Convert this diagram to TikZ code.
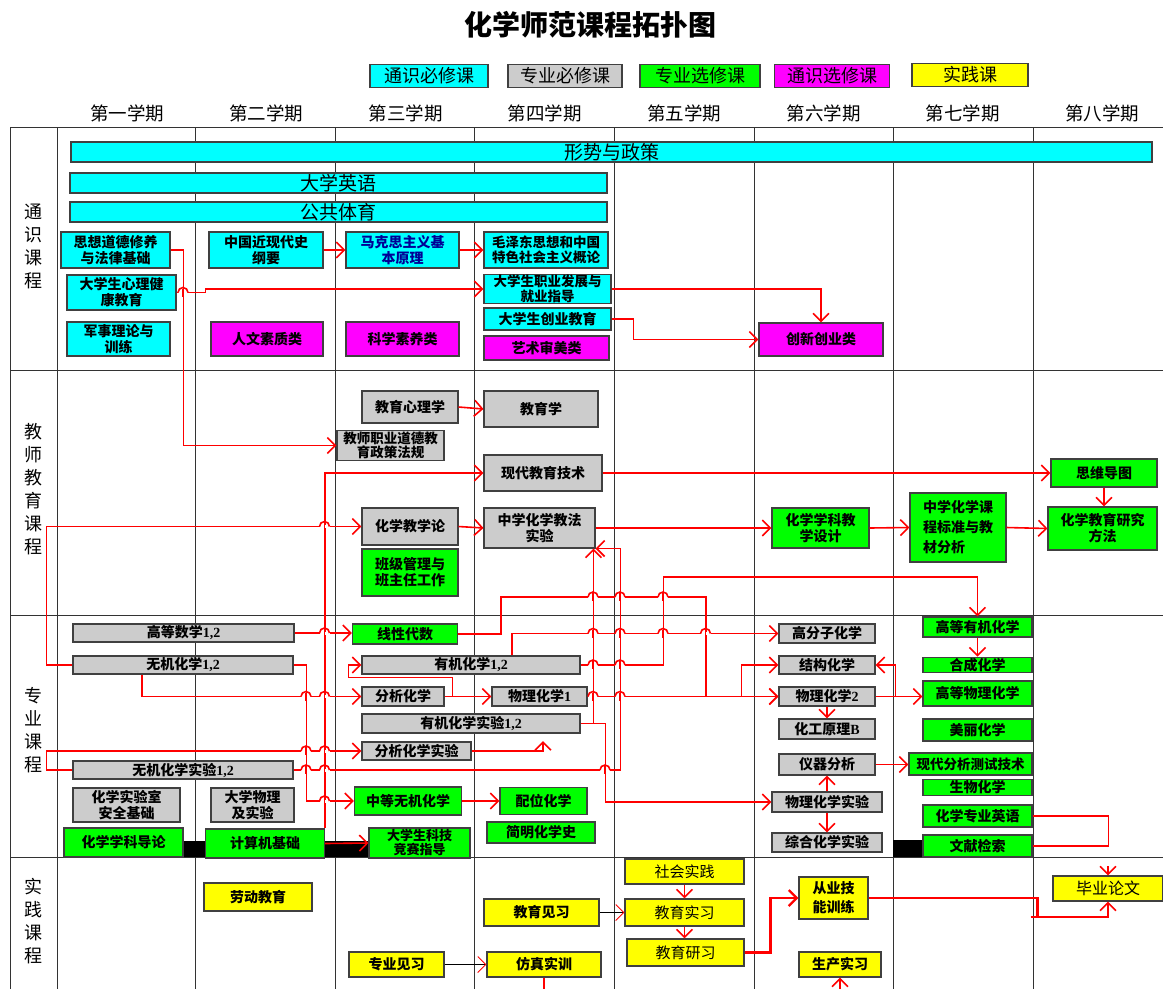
\documentclass[tikz,border=0pt]{standalone}
\usepackage{fontspec}
\setmainfont{Noto Sans CJK SC}
\newfontfamily\latinfont{Liberation Serif}
\usetikzlibrary{arrows.meta}
\usetikzlibrary{positioning}

\definecolor{tscyan}{RGB}{0,255,255}
\definecolor{zbgray}{RGB}{204,204,204}
\definecolor{zxgreen}{RGB}{0,255,0}
\definecolor{txmagenta}{RGB}{255,0,255}
\definecolor{sjyellow}{RGB}{255,255,0}
\definecolor{linkred}{RGB}{255,0,0}
\definecolor{mksblue}{RGB}{0,0,150}

\newcommand{\lnum}[1]{{\latinfont\bfseries #1}}
\newcommand{\linkhop}[2]{%
  \draw[white, line width=3pt] ({#1-5},#2) -- ({#1+5},#2);
  \draw[plainlink] (#1,{#2-4}) -- (#1,{#2+4});
  \draw[plainlink] ({#1-5},#2) arc[start angle=180, end angle=360, radius=5];}

\tikzset{
  course/.style={draw=black!75, line width=1.1pt, inner sep=1pt, align=center,
    font=\fontsize{14}{16}\selectfont\bfseries},
  tsbox/.style={course, fill=tscyan},
  zbbox/.style={course, fill=zbgray},
  zxbox/.style={course, fill=zxgreen},
  txbox/.style={course, fill=txmagenta},
  sjbox/.style={course, fill=sjyellow},
  thin text/.style={font=\fontsize{15}{17}\selectfont},
  wide text/.style={font=\fontsize{19}{20}\selectfont},
  small text/.style={font=\fontsize{13.5}{14.5}\selectfont\bfseries},
  legend/.style={font=\fontsize{18}{20}\selectfont},
  semtext/.style={font=\fontsize{18.5}{20}\selectfont},
  catlabel/.style={align=center, font=\fontsize{18}{23}\selectfont},
  gridline/.style={draw=black!80, line width=1pt},
  link/.style={draw=linkred, line width=1.6pt, -{Straight Barb[length=8pt,width=16pt]}},
  plainlink/.style={draw=linkred, line width=1.6pt},
  blacklink/.style={draw=black, line width=1pt, -{Straight Barb[length=8pt,width=16pt,color=linkred]}}
}

\begin{document}
\begin{tikzpicture}[x=1pt,y=-1pt]
\useasboundingbox[fill=white] (0,0) rectangle (1163,989);

% title and legend
\node[font=\fontsize{28}{30}\selectfont\bfseries] (title) at (590,25) {化学师范课程拓扑图};
\node[tsbox, legend, minimum width=118, minimum height=23] (lgts) at (429,76) {通识必修课};
\node[zbbox, legend, minimum width=114, minimum height=23] (lgzb) at (565,76) {专业必修课};
\node[zxbox, legend, minimum width=120, minimum height=23] (lgzx) at (700,76) {专业选修课};
\node[txbox, legend, minimum width=115, minimum height=23] (lgtx) at (832,76) {通识选修课};
\node[sjbox, legend, minimum width=116, minimum height=23] (lgsj) at (970,75) {实践课};

% semesters
\foreach \t [count=\i] in {一,二,三,四,五,六,七,八}
  \node[semtext] (sem\i) at ({127+139.3*(\i-1)},113) {第\t 学期};

% grid
\foreach \gx in {10,57,195,335,474,614,754,893,1033}
  \draw[gridline] (\gx,127) -- (\gx,989);
\foreach \gy in {127,370,615,857}
  \draw[gridline] (10,\gy) -- (1163,\gy);
\fill[black] (170,841) rectangle (370,857);
\fill[black] (893,840) rectangle (923,857);

\node[catlabel] (cat1) at (33,246) {通\\识\\课\\程};
\node[catlabel] (cat2) at (33,489) {教\\师\\教\\育\\课\\程};
\node[catlabel] (cat3) at (33,730) {专\\业\\课\\程};
\node[catlabel] (cat4) at (33,921) {实\\践\\课\\程};

% general courses
\node[tsbox, wide text, minimum width=1081, minimum height=20] (xszc) at (611.5,152) {形势与政策};
\node[tsbox, wide text, minimum width=537, minimum height=20] (dxyy) at (338.5,183) {大学英语};
\node[tsbox, wide text, minimum width=537, minimum height=20] (ggty) at (338.5,212) {公共体育};
\node[tsbox, minimum width=109, minimum height=36] (szdd) at (115.5,250) {思想道德修养\\与法律基础};
\node[tsbox, minimum width=114, minimum height=36] (zgjx) at (266,250) {中国近现代史\\纲要};
\node[tsbox, text=mksblue, minimum width=113, minimum height=36] (mks) at (402.5,250) {马克思主义基\\本原理};
\node[tsbox, small text, minimum width=124, minimum height=36] (mzd) at (546,250) {毛泽东思想和中国\\特色社会主义概论};
\node[tsbox, minimum width=109, minimum height=35] (xljk) at (121.5,292.5) {大学生心理健\\康教育};
\node[tsbox, small text, minimum width=127, minimum height=28] (zyfz) at (547.5,289) {大学生职业发展与\\就业指导};
\node[tsbox, minimum width=127, minimum height=22] (cyjy) at (547.5,319) {大学生创业教育};
\node[tsbox, minimum width=103, minimum height=34] (jsll) at (118.5,339) {军事理论与\\训练};
\node[txbox, minimum width=112, minimum height=34] (rwsz) at (267,339) {人文素质类};
\node[txbox, minimum width=113, minimum height=34] (kxsy) at (402.5,339) {科学素养类};
\node[txbox, minimum width=125, minimum height=24] (yssm) at (546.5,348) {艺术审美类};
\node[txbox, minimum width=124, minimum height=33] (cxcy) at (821,339.5) {创新创业类};

% teacher education
\node[zbbox, minimum width=96, minimum height=32] (jyxl) at (410,407) {教育心理学};
\node[zbbox, minimum width=114, minimum height=36] (jyx) at (541,409) {教育学};
\node[zbbox, small text, minimum width=107, minimum height=27] (jszy) at (390.5,445.5) {教师职业道德教\\育政策法规};
\node[zbbox, minimum width=118, minimum height=36] (xdjs) at (543,473) {现代教育技术};
\node[zbbox, minimum width=96, minimum height=37] (hxjxl) at (410,526.5) {化学教学论};
\node[zbbox, minimum width=111, minimum height=40] (jfsy) at (539.5,528) {中学化学教法\\实验};
\node[zxbox, minimum width=96, minimum height=47] (bjgl) at (410,572.5) {班级管理与\\班主任工作};
\node[zxbox, minimum width=97, minimum height=40] (xkjx) at (820.5,528) {化学学科教\\学设计};
\node[zxbox, align=left, font=\fontsize{14}{20}\selectfont\bfseries, minimum width=96, minimum height=69] (kcbz) at (958,527.5) {中学化学课\\程标准与教\\材分析};
\node[zxbox, minimum width=106, minimum height=28] (swdt) at (1104,473) {思维导图};
\node[zxbox, minimum width=109, minimum height=43] (yjff) at (1102.5,528.5) {化学教育研究\\方法};

% major courses
\node[zbbox, minimum width=221, minimum height=18] (gdsx) at (183.5,633) {高等数学\lnum{1,2}};
\node[zbbox, minimum width=220, minimum height=18] (wjhx) at (183,665) {无机化学\lnum{1,2}};
\node[zxbox, minimum width=105, minimum height=20] (xxds) at (405,634) {线性代数};
\node[zbbox, minimum width=218, minimum height=18] (yjhx) at (471,665) {有机化学\lnum{1,2}};
\node[zbbox, minimum width=82, minimum height=19] (fxhx) at (403,696.5) {分析化学};
\node[zbbox, minimum width=95, minimum height=19] (wlhx1) at (539.5,696.5) {物理化学\lnum{1}};
\node[zbbox, minimum width=218, minimum height=19] (yjsy) at (471,723.5) {有机化学实验\lnum{1,2}};
\node[zbbox, minimum width=109, minimum height=18] (fxsy) at (416.5,751) {分析化学实验};
\node[zbbox, minimum width=220, minimum height=18] (wjsy) at (183,770) {无机化学实验\lnum{1,2}};
\node[zbbox, minimum width=107, minimum height=34] (aqjc) at (126.5,805) {化学实验室\\安全基础};
\node[zbbox, minimum width=83, minimum height=34] (dxwl) at (252.5,805) {大学物理\\及实验};
\node[zxbox, minimum width=107, minimum height=28] (zdwj) at (408,801) {中等无机化学};
\node[zxbox, minimum width=87, minimum height=27] (pwhx) at (543.5,801) {配位化学};
\node[zxbox, minimum width=119, minimum height=29] (xkdl) at (123.5,842.5) {化学学科导论};
\node[zxbox, minimum width=119, minimum height=29] (jsj) at (265,843.5) {计算机基础};
\node[zxbox, font=\fontsize{13}{14}\selectfont\bfseries, minimum width=101, minimum height=30] (jsjs) at (419.5,843) {大学生科技\\竞赛指导};
\node[zxbox, minimum width=108, minimum height=21] (jmhxs) at (541,832.5) {简明化学史};
\node[zbbox, minimum width=96, minimum height=19] (gfz) at (827,633.5) {高分子化学};
\node[zbbox, minimum width=96, minimum height=18] (jghx) at (827,665) {结构化学};
\node[zbbox, minimum width=96, minimum height=19] (wlhx2) at (827,696.5) {物理化学\lnum{2}};
\node[zbbox, minimum width=96, minimum height=20] (hgyl) at (827,729) {化工原理\lnum{B}};
\node[zbbox, minimum width=96, minimum height=21] (yqfx) at (827,764.5) {仪器分析};
\node[zbbox, minimum width=110, minimum height=20] (wlsy) at (827,802) {物理化学实验};
\node[zbbox, minimum width=110, minimum height=19] (zhsy) at (827,842.5) {综合化学实验};
\node[zxbox, minimum width=109, minimum height=20] (gdyj) at (977.5,627) {高等有机化学};
\node[zxbox, minimum width=109, minimum height=14] (hchx) at (977.5,665) {合成化学};
\node[zxbox, minimum width=109, minimum height=25] (gdwl) at (977.5,693.5) {高等物理化学};
\node[zxbox, minimum width=109, minimum height=22] (mlhx) at (977.5,730) {美丽化学};
\node[zxbox, small text, minimum width=123, minimum height=22] (xdfx) at (970.5,764) {现代分析测试技术};
\node[zxbox, minimum width=109, minimum height=11] (swhx) at (977.5,787.5) {生物化学};
\node[zxbox, minimum width=109, minimum height=22] (zyyy) at (977.5,816) {化学专业英语};
\node[zxbox, minimum width=109, minimum height=22] (wxjs) at (977.5,846) {文献检索};

% practice
\node[sjbox, minimum width=108, minimum height=28] (ldjy) at (258,897) {劳动教育};
\node[sjbox, thin text, minimum width=119, minimum height=25] (shsj) at (684.5,871.5) {社会实践};
\node[sjbox, thin text, minimum width=119, minimum height=27] (jysx) at (684.5,912.5) {教育实习};
\node[sjbox, minimum width=115, minimum height=27] (jyjx) at (541.5,912.5) {教育见习};
\node[sjbox, thin text, minimum width=117, minimum height=27] (jyyx) at (685.5,952.5) {教育研习};
\node[sjbox, minimum width=95, minimum height=25] (zyjx) at (396.5,964.5) {专业见习};
\node[sjbox, minimum width=114, minimum height=25] (fzsx) at (544,964.5) {仿真实训};
\node[sjbox, font=\fontsize{14}{19}\selectfont\bfseries, minimum width=69, minimum height=42] (cyjn) at (833.5,898) {从业技\\能训练};
\node[sjbox, minimum width=82, minimum height=25] (scsx) at (840,964.5) {生产实习};
\node[sjbox, font=\fontsize{16}{18}\selectfont, minimum width=110, minimum height=25] (bylw) at (1108,888.5) {毕业论文};

\coordinate (fxsyend) at (543,741);
\coordinate (fzend) at (544,989);
\coordinate (scstart) at (840,989);
\coordinate (lwtop) at (1108,866);

% links: general courses
\draw[link] (szdd.east) -- ++(13,0) |- (jszy.west);
\draw[link] (zgjx.east) -- (mks.west);
\draw[link] (mks.east) -- (mzd.west);
\draw[link] (xljk.east) -- ++(29,0) |- (zyfz.west);
\draw[link] (zyfz.east) -| (cxcy.north);
\draw[link] (cyjy.east) -- ++(22,0) |- (cxcy.west);

% links: teacher education
\draw[link] (jyxl.east) -- (jyx.west);
\draw[link] (jsj.north east) |- (xdjs.west);
\draw[link] (wjhx.west) -- ++(-26,0) |- (hxjxl.west);
\draw[link] (hxjxl.east) -- (jfsy.west);
\draw[link] (jfsy.east) -- (xkjx.west);
\draw[link] (xkjx.east) -- (kcbz.west);
\draw[link] (kcbz.east) -- (yjff.west);
\draw[link] (xdjs.east) -- (swdt.west);
\draw[link] (swdt.south) -- (swdt.south |- yjff.north);

% links: major courses
\draw[link] (gdsx.east) -- (gdsx.east -| xxds.west);
\draw[link] (wjhx.east) -- ++(13,0) |- (zdwj.west);
\draw[link] ([xshift=-41pt]wjhx.south) |- (fxhx.west);
\draw[link] (fxhx.east) -- ++(8,0) -- ++(0,-19) -- ++(-104,0) |- (yjhx.west);
\draw[link] (fxhx.east) -- (wlhx1.west);
\draw[link] (xxds.east) -- ++(43,0) -- ++(0,-37) -- ++(205,0) |- (wlhx2.west);
\draw[link] ([xshift=41pt]yjhx.north) |- (gfz.west);
\draw[link] (yjhx.east) -- ++(83,0) -- ++(0,-88) -| (gdyj.north);
\draw[link] (wlhx1.east) -- (wlhx2.west);
\draw[link] ([xshift=-37pt]wlhx2.west) |- (jghx.west);
\draw[link] (wlhx2.east) -- ++(20,0) |- (jghx.east);
\draw[link] (wlhx2.east) -- (wlhx2.east -| gdwl.west);
\draw[link] (wlhx2.south) -- (hgyl.north);
\draw[link] (wlsy.north) -- (yqfx.south);
\draw[link] (wlsy.south) -- (zhsy.north);
\draw[link] (yqfx.east) -- (yqfx.east -| xdfx.west);
\draw[link] (gdyj.south) -- (hchx.north);
\draw[plainlink] (zyyy.east) -- ++(76,0) |- (wxjs.east);
\draw[link] (zdwj.east) -- (pwhx.west);
\draw[link] (jsj.east) -- (jsjs.west);
\draw[link] (wjsy.west) -- ++(-26,0) |- (fxsy.west);
\draw[link] (fxsy.east) -| (fxsyend);
\draw[link] (wjsy.east) -- ++(327,0) |- (jfsy.south east);
\draw[link] (yjsy.east) -| ([xshift=-2pt]jfsy.south east);
\draw[link] (yjsy.east) -- ++(25,0) |- (wlsy.west);

% links: practice
\draw[link] (shsj.south) -- (jysx.north);
\draw[link] (jysx.south) -- (jysx.south |- jyyx.north);
\draw[blacklink] (jyjx.east) -- (jysx.west);
\draw[blacklink] (zyjx.east) -- (fzsx.west);
\draw[plainlink] (fzsx.south) -- (fzend);
\draw[link] (scstart) -- (scsx.south);
\draw[link, line width=2.4pt] (jyyx.east) -- ++(26,0) |- (cyjn.west);
\draw[plainlink, line width=2.4pt] (cyjn.east) -- ++(169,0) coordinate (lwturn) -- ++(0,19);
\draw[link] (lwturn) ++(-7,19) -| (bylw.south);
\draw[link] (lwtop) -- (bylw.north);

% hops where links cross
\foreach \hx/\hy in {183/292.5, 324.5/526.5, 324.5/633, 306/696.5, 324.5/696.5,
    306/751, 324.5/751, 306/770, 324.5/770, 605/770, 324.5/801,
    593/633.5, 620/633.5, 663/633.5, 705.5/633.5, 593/597, 620/597, 663/597,
    593/665, 620/665, 593/696.5, 620/696.5}
  {\linkhop{\hx}{\hy}}

\end{tikzpicture}
\end{document}
